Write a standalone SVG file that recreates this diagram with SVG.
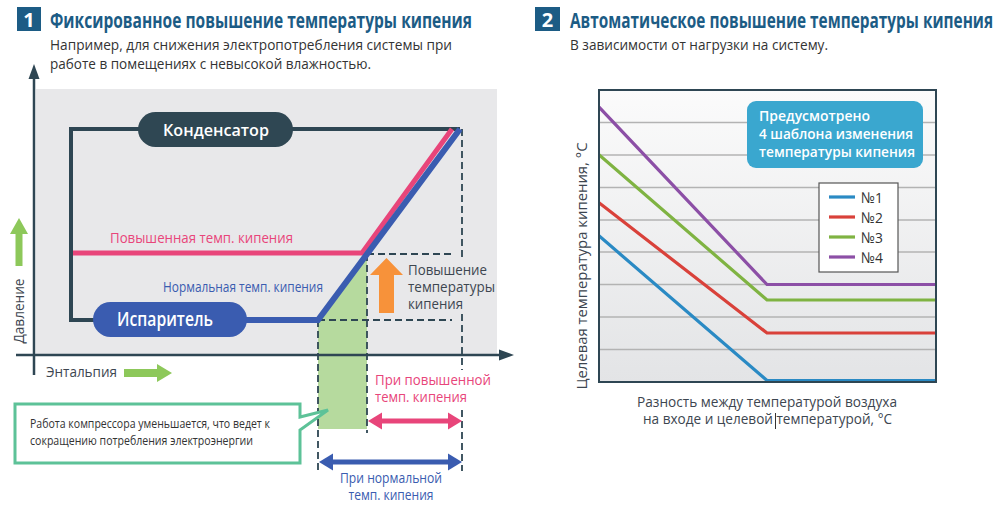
<svg xmlns="http://www.w3.org/2000/svg" width="1000" height="509" viewBox="0 0 1000 509">
<defs>
<style>
text{font-family:"Open Sans","Liberation Sans",sans-serif}
.title{font-family:"Liberation Sans Narrow","Open Sans",sans-serif;font-size:16px;fill:#1c5c85;font-weight:700}
.sub{font-size:15px;fill:#333}
.num{font-size:20px;fill:#fff;font-weight:700;text-anchor:middle}
.dark{stroke:#2e4653;fill:none}
.dash{stroke:#2e4653;stroke-width:1.8;stroke-dasharray:7 4;fill:none}
.grid{stroke:#b3b3b3;stroke-width:1.3}
.lbl{font-size:14px;fill:#3d4650}
.wh{fill:#fff;font-weight:600}
</style>
<linearGradient id="bg2" x1="0" y1="0" x2="0" y2="1">
<stop offset="0" stop-color="#fbfbfb"/>
<stop offset="1" stop-color="#e3e4e6"/>
</linearGradient>
<clipPath id="clip2"><rect x="600" y="91" width="335" height="290"/></clipPath>
</defs>
<rect width="1000" height="509" fill="#fff"/>

<!-- Headers -->
<g id="header1">
<rect x="17" y="7" width="24" height="24" fill="#1c5c85"/>
<text class="num" x="29" y="27">1</text>
<text class="title" transform="translate(50,28) scale(1.3125)" x="0" y="0" textLength="321.5" lengthAdjust="spacingAndGlyphs">Фиксированное повышение температуры кипения</text>
<text class="sub" x="50" y="50" textLength="402" lengthAdjust="spacingAndGlyphs">Например, для снижения электропотребления системы при</text>
<text class="sub" x="50" y="69" textLength="321" lengthAdjust="spacingAndGlyphs">работе в помещениях с невысокой влажностью.</text>
</g>
<g id="header2">
<rect x="535" y="7" width="25" height="24" fill="#1c5c85"/>
<text class="num" x="547.5" y="27">2</text>
<text class="title" transform="translate(570,28) scale(1.3125)" x="0" y="0" textLength="322.3" lengthAdjust="spacingAndGlyphs">Автоматическое повышение температуры кипения</text>
<text class="sub" x="570" y="50" textLength="258" lengthAdjust="spacingAndGlyphs">В зависимости от нагрузки на систему.</text>
</g>

<!-- Left chart -->
<g id="chart1-bg">
<rect x="36" y="89" width="461" height="266" fill="#e8e8ea"/>
</g>
<g id="green-area">
<polygon points="318,320 367,254 367,429 318,429" fill="#b6da9e"/>
</g>
<g id="connectors">
<!-- axes -->
<line class="dark" x1="34" y1="77" x2="34" y2="375" stroke-width="2.5"/>
<polygon points="34,64 28.5,79 39.5,79" fill="#2e4653"/>
<line class="dark" x1="16" y1="355" x2="501" y2="355" stroke-width="2.5"/>
<polygon points="514,355 499,349.5 499,360.5" fill="#2e4653"/>
<!-- dashed guides -->
<line class="dash" x1="318" y1="320" x2="318" y2="471"/>
<line class="dash" x1="367" y1="254" x2="367" y2="433"/>
<line class="dash" x1="462" y1="129" x2="462" y2="259"/>
<line class="dash" x1="462" y1="314" x2="462" y2="370"/>
<line class="dash" x1="462" y1="410" x2="462" y2="471"/>
<line class="dash" x1="367" y1="254" x2="453" y2="254"/>
<line class="dash" x1="318" y1="320" x2="452" y2="320"/>
<!-- cycle -->
<polyline class="dark" points="95,320 71,320 71,129 460,129" stroke-width="4"/>
<polyline points="73,253 362,253 452,129" fill="none" stroke="#e8457a" stroke-width="5"/>
<polyline points="245,320 318,320 460,129" fill="none" stroke="#3a5cb0" stroke-width="6"/>
<!-- orange arrow -->
<polygon points="386.5,258 403,275 394,275 394,313 379,313 379,275 370,275" fill="#f7923a"/>
<!-- double arrows -->
<line x1="378" y1="421" x2="452" y2="421" stroke="#e8457a" stroke-width="5"/>
<polygon points="368,421 382,412.5 382,429.5" fill="#e8457a"/>
<polygon points="462,421 448,412.5 448,429.5" fill="#e8457a"/>
<line x1="330" y1="462" x2="451" y2="462" stroke="#3a5cb0" stroke-width="5"/>
<polygon points="319,462 333,453.5 333,470.5" fill="#3a5cb0"/>
<polygon points="462,462 448,453.5 448,470.5" fill="#3a5cb0"/>
<!-- green arrows -->
<polygon points="19,218 28,234 22.5,234 22.5,266 15.5,266 15.5,234 10,234" fill="#8dc85a"/>
<polygon points="172,373 157,364 157,369 124,369 124,377 157,377 157,382" fill="#8dc85a"/>
</g>

<g id="condenser">
<rect x="138" y="112" width="155" height="35" rx="17.5" fill="#2f4753"/>
<text class="wh" x="216" y="136" font-size="17" text-anchor="middle" textLength="106" lengthAdjust="spacingAndGlyphs">Конденсатор</text>
</g>
<g id="evaporator">
<rect x="93" y="302" width="154" height="35" rx="17.5" fill="#3a5cb0"/>
<text class="wh" x="165" y="326" font-size="19" text-anchor="middle" textLength="96" lengthAdjust="spacingAndGlyphs">Испаритель</text>
</g>

<g id="labels1">
<text x="110" y="243" font-size="14" fill="#e8457a" textLength="183" lengthAdjust="spacingAndGlyphs">Повышенная темп. кипения</text>
<text x="163" y="292" font-size="14" fill="#3a5cb0" textLength="160" lengthAdjust="spacingAndGlyphs">Нормальная темп. кипения</text>
<text class="lbl" x="408" y="275" font-size="15" textLength="79" lengthAdjust="spacingAndGlyphs">Повышение</text>
<text class="lbl" x="408" y="292" font-size="15" textLength="87" lengthAdjust="spacingAndGlyphs">температуры</text>
<text class="lbl" x="408" y="309" font-size="15" textLength="55" lengthAdjust="spacingAndGlyphs">кипения</text>
<text class="lbl" transform="translate(24,311) rotate(-90)" font-size="15" text-anchor="middle" textLength="65" lengthAdjust="spacingAndGlyphs">Давление</text>
<text class="lbl" x="46" y="377" font-size="15" textLength="71" lengthAdjust="spacingAndGlyphs">Энтальпия</text>
<text x="375" y="385" font-size="14" fill="#e8457a" textLength="116" lengthAdjust="spacingAndGlyphs">При повышенной</text>
<text x="375" y="402" font-size="14" fill="#e8457a" textLength="92" lengthAdjust="spacingAndGlyphs">темп. кипения</text>
<text x="391" y="483" font-size="14" fill="#3a5cb0" text-anchor="middle" textLength="102" lengthAdjust="spacingAndGlyphs">При нормальной</text>
<text x="391" y="500" font-size="14" fill="#3a5cb0" text-anchor="middle" textLength="85" lengthAdjust="spacingAndGlyphs">темп. кипения</text>
</g>

<g id="callout">
<path d="M15,404 H300 V417 L328,410 L300,430 V463 H15 Z" fill="#fff" stroke="#5dc298" stroke-width="3" stroke-linejoin="miter"/>
<text x="30" y="428" font-size="13.5" fill="#333" textLength="240" lengthAdjust="spacingAndGlyphs">Работа компрессора уменьшается, что ведет к</text>
<text x="30" y="445" font-size="13.5" fill="#333" textLength="223" lengthAdjust="spacingAndGlyphs">сокращению потребления электроэнергии</text>
</g>

<!-- Right chart -->
<g id="chart2-frame">
<rect x="599" y="90" width="337" height="292" fill="url(#bg2)"/>
<line class="grid" x1="600" y1="122.5" x2="935" y2="122.5"/>
<line class="grid" x1="600" y1="155" x2="935" y2="155"/>
<line class="grid" x1="600" y1="187.5" x2="935" y2="187.5"/>
<line class="grid" x1="600" y1="220" x2="935" y2="220"/>
<line class="grid" x1="600" y1="252" x2="935" y2="252"/>
<line class="grid" x1="600" y1="284.5" x2="935" y2="284.5"/>
<line class="grid" x1="600" y1="317" x2="935" y2="317"/>
<line class="grid" x1="600" y1="349.5" x2="935" y2="349.5"/>
</g>
<g id="curves" clip-path="url(#clip2)" fill="none" stroke-width="3.2">
<polyline points="598,106 767,284.5 940,284.5" stroke="#8c4fa6"/>
<polyline points="598,154 767,300 940,300" stroke="#7fb342"/>
<polyline points="598,202 767,333 940,333" stroke="#d9413a"/>
<polyline points="598,235 767,380.5 940,380.5" stroke="#2a8ac4"/>
</g>
<rect x="599" y="90" width="337" height="292" fill="none" stroke="#2e4653" stroke-width="2"/>

<g id="info-box">
<rect x="747" y="101" width="176" height="67" rx="9" fill="#3aa7cf"/>
<text class="wh" x="759" y="121" font-size="14.5" textLength="111" lengthAdjust="spacingAndGlyphs">Предусмотрено</text>
<text class="wh" x="759" y="139" font-size="14.5" textLength="154" lengthAdjust="spacingAndGlyphs">4 шаблона изменения</text>
<text class="wh" x="759" y="157" font-size="14.5" textLength="156" lengthAdjust="spacingAndGlyphs">температуры кипения</text>
</g>

<g id="legend">
<rect x="819" y="183" width="79" height="89" fill="#fff" stroke="#555" stroke-width="1.2"/>
<line x1="829" y1="197" x2="855" y2="197" stroke="#2a8ac4" stroke-width="3.2"/>
<line x1="829" y1="217" x2="855" y2="217" stroke="#d9413a" stroke-width="3.2"/>
<line x1="829" y1="237" x2="855" y2="237" stroke="#7fb342" stroke-width="3.2"/>
<line x1="829" y1="257" x2="855" y2="257" stroke="#8c4fa6" stroke-width="3.2"/>
<text x="861" y="202.5" font-size="15" fill="#333" textLength="22" lengthAdjust="spacingAndGlyphs">№1</text>
<text x="861" y="222.5" font-size="15" fill="#333" textLength="22" lengthAdjust="spacingAndGlyphs">№2</text>
<text x="861" y="242.5" font-size="15" fill="#333" textLength="22" lengthAdjust="spacingAndGlyphs">№3</text>
<text x="861" y="262.5" font-size="15" fill="#333" textLength="22" lengthAdjust="spacingAndGlyphs">№4</text>
</g>

<g id="axis-labels2">
<text class="lbl" transform="translate(587,266) rotate(-90)" font-size="15" text-anchor="middle" textLength="247" lengthAdjust="spacingAndGlyphs">Целевая температура кипения, °C</text>
<text class="lbl" x="767" y="407" font-size="15" text-anchor="middle" textLength="260" lengthAdjust="spacingAndGlyphs">Разность между температурой воздуха</text>
<text class="lbl" x="767.5" y="424" font-size="15" text-anchor="middle" textLength="249" lengthAdjust="spacingAndGlyphs">на входе и целевой температурой, °C</text>
<line x1="775.5" y1="413" x2="775.5" y2="429" stroke="#333" stroke-width="1"/>
</g>
</svg>
